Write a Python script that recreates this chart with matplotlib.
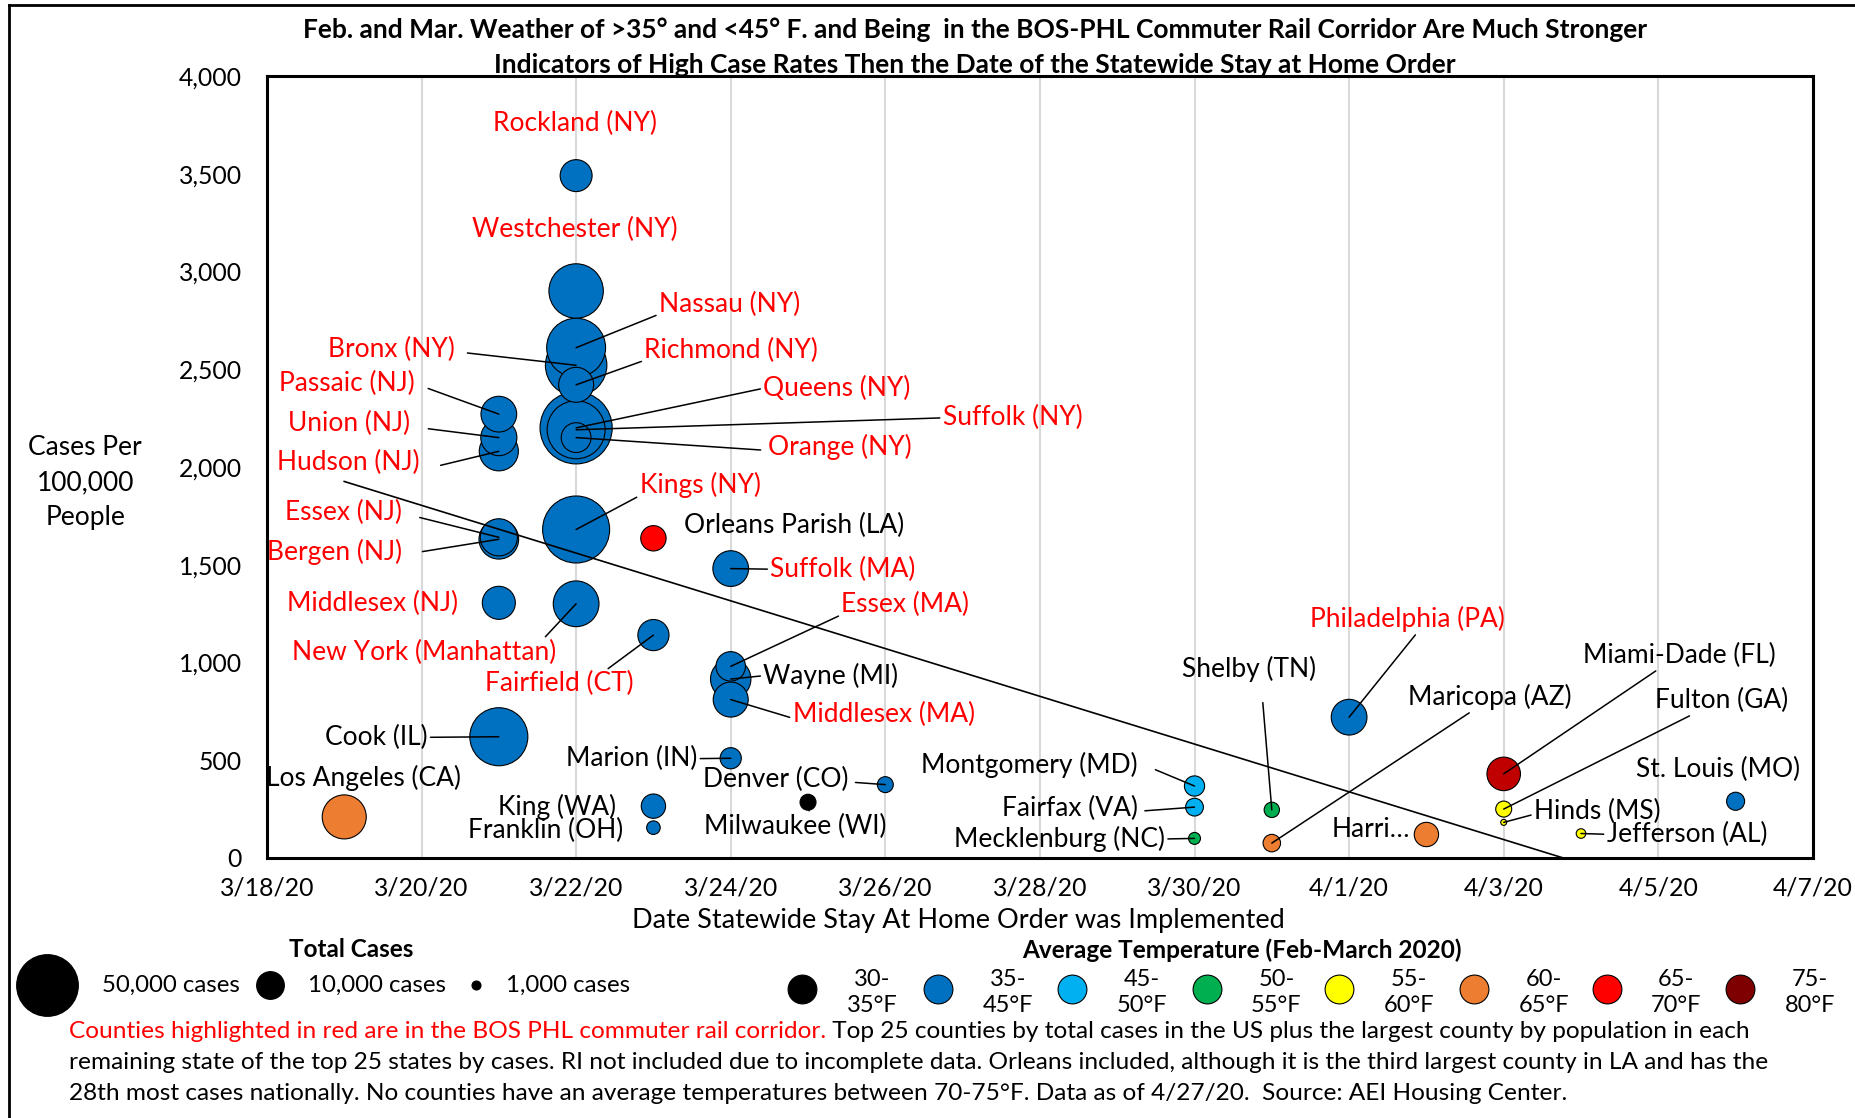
import numpy as np
import pandas as pd
import matplotlib
matplotlib.use('Agg')
import matplotlib.pyplot as plt
import matplotlib.dates as mdates

plt.rcParams['font.family'] = ['Lato', 'DejaVu Sans']

# Dados
condados = ['Rockland (NY)', 'Westchester (NY)', 'Nassau (NY)', 'Bronx (NY)', 'Richmond (NY)',
            'Queens (NY)', 'Suffolk (NY)', 'Orange (NY)', 'Kings (NY)', 'New York (Manhattan)',
            'Passaic (NJ)', 'Union (NJ)', 'Hudson (NJ)', 'Essex (NJ)', 'Bergen (NJ)',
            'Middlesex (NJ)', 'Cook (IL)', 'Los Angeles (CA)', 'Orleans Parish (LA)', 'Fairfield (CT)',
            'King (WA)', 'Franklin (OH)', 'Suffolk (MA)', 'Essex (MA)', 'Wayne (MI)',
            'Middlesex (MA)', 'Marion (IN)', 'Milwaukee (WI)', 'Denver (CO)', 'Montgomery (MD)',
            'Fairfax (VA)', 'Mecklenburg (NC)', 'Shelby (TN)', 'Maricopa (AZ)', 'Philadelphia (PA)',
            'Harris (TX)', 'Miami-Dade (FL)', 'Fulton (GA)', 'Hinds (MS)', 'Jefferson (AL)',
            'St. Louis (MO)']
datas = ['2020-03-22', '2020-03-22', '2020-03-22', '2020-03-22', '2020-03-22',
         '2020-03-22', '2020-03-22', '2020-03-22', '2020-03-22', '2020-03-22',
         '2020-03-21', '2020-03-21', '2020-03-21', '2020-03-21', '2020-03-21',
         '2020-03-21', '2020-03-21', '2020-03-19', '2020-03-23', '2020-03-23',
         '2020-03-23', '2020-03-23', '2020-03-24', '2020-03-24', '2020-03-24',
         '2020-03-24', '2020-03-24', '2020-03-25', '2020-03-26', '2020-03-30',
         '2020-03-30', '2020-03-30', '2020-03-31', '2020-03-31', '2020-04-01',
         '2020-04-02', '2020-04-03', '2020-04-03', '2020-04-03', '2020-04-04',
         '2020-04-06']
casos_100k = [3490, 2900, 2610, 2520, 2420,
              2200, 2190, 2150, 1680, 1300,
              2270, 2150, 2080, 1640, 1630,
              1305, 620, 210, 1635, 1140,
              265, 155, 1480, 980, 915,
              810, 510, 285, 375, 368,
              260, 100, 246, 76, 720,
              120, 430, 250, 182, 125,
              290]
casos_total = [10000, 29000, 34000, 37000, 12000,
               51000, 33000, 8700, 44000, 20500,
               12500, 12800, 15000, 13500, 15400,
               10700, 33000, 19000, 6300, 9500,
               5800, 1800, 12500, 8500, 16000,
               12000, 4400, 2500, 2500, 4000,
               3100, 1400, 2300, 3000, 12500,
               5800, 11000, 2500, 350, 900,
               3200]
# categoria de temperatura (indice em faixas_temp)
temp_cat = [1, 1, 1, 1, 1, 1, 1, 1, 1, 1,
            1, 1, 1, 1, 1, 1, 1, 5, 6, 1,
            1, 1, 1, 1, 1, 1, 1, 0, 1, 2,
            2, 3, 3, 5, 1,
            5, 7, 4, 4, 4,
            1]
# condados no corredor BOS-PHL (rotulo a vermelho)
corredor = [True, True, True, True, True, True, True, True, True, True,
            True, True, True, True, True, True, False, False, False, True,
            False, False, True, True, False, True, False, False, False, False,
            False, False, False, False, True,
            False, False, False, False, False,
            False]

faixas_temp = ['30-\n35°F', '35-\n45°F', '45-\n50°F', '50-\n55°F', '55-\n60°F', '60-\n65°F', '65-\n70°F', '75-\n80°F']
cores_temp = ['#000000', '#0070C0', '#00B0F0', '#00B050', '#FFFF00', '#ED7D31', '#FF0000', '#C00000']
cores_legenda = ['#000000', '#0070C0', '#00B0F0', '#00B050', '#FFFF00', '#ED7D31', '#FF0000', '#7F0000']
legenda_casos = [50000, 10000, 1000]
legenda_rotulos = ['50,000 cases', '10,000 cases', '1,000 cases']

df = pd.DataFrame({'nome': condados, 'data': pd.to_datetime(datas), 'taxa': casos_100k,
                   'casos': casos_total, 'temp': temp_cat, 'corredor': corredor})

# posicoes dos rotulos: (dias depois de 3/18, valor, alinhamento, relpos da linha ou None)
rotulos = {
    'Rockland (NY)': (3.98, 3758, 'center', None),
    'Westchester (NY)': (3.98, 3213, 'center', None),
    'Nassau (NY)': (5.07, 2832, 'left', (0, 0.1)),
    'Bronx (NY)': (2.43, 2602, 'right', (1.1, 0.35)),
    'Richmond (NY)': (4.88, 2596, 'left', (0, 0.1)),
    'Passaic (NJ)': (1.91, 2427, 'right', (1.1, 0.3)),
    'Queens (NY)': (6.42, 2402, 'left', (0, 0.5)),
    'Suffolk (NY)': (8.74, 2251, 'left', (0, 0.5)),
    'Union (NJ)': (1.85, 2221, 'right', (1.15, 0.3)),
    'Orange (NY)': (6.48, 2100, 'left', (-0.05, 0.4)),
    'Hudson (NJ)': (1.97, 2021, 'right', (1.15, 0.4)),
    'Kings (NY)': (4.82, 1906, 'left', (0, 0.1)),
    'Essex (NJ)': (1.75, 1767, 'right', (1.15, 0.3)),
    'Orleans Parish (LA)': (5.39, 1700, 'left', None),
    'Bergen (NJ)': (1.75, 1567, 'right', (1.15, 0.5)),
    'Suffolk (MA)': (6.51, 1477, 'left', (0, 0.5)),
    'Essex (MA)': (7.43, 1295, 'left', (0, 0.1)),
    'Middlesex (NJ)': (2.47, 1301, 'right', None),
    'New York (Manhattan)': (3.74, 1053, 'right', (0.95, 1.0)),
    'Fairfield (CT)': (4.75, 890, 'right', (0.8, 1.0)),
    'Wayne (MI)': (6.42, 932, 'left', (0, 0.5)),
    'Middlesex (MA)': (6.81, 732, 'left', (-0.02, 0.4)),
    'Cook (IL)': (2.08, 617, 'right', (1.0, 0.5)),
    'Marion (IN)': (5.57, 508, 'right', (1.0, 0.5)),
    'Los Angeles (CA)': (2.51, 411, 'right', None),
    'Denver (CO)': (7.52, 399, 'right', (1.05, 0.4)),
    'Montgomery (MD)': (11.27, 478, 'right', (1.08, 0.3)),
    'King (WA)': (4.52, 262, 'right', None),
    'Fairfax (VA)': (11.27, 254, 'right', (1.05, 0.4)),
    'Milwaukee (WI)': (5.65, 163, 'left', (0.58, 0.95)),
    'Franklin (OH)': (4.61, 143, 'right', None),
    'Mecklenburg (NC)': (11.62, 97, 'right', (1.0, 0.5)),
    'Shelby (TN)': (12.71, 968, 'center', (0.6, -0.8)),
    'Philadelphia (PA)': (14.76, 1222, 'center', (0.55, 0)),
    'Maricopa (AZ)': (15.82, 823, 'center', (0.4, 0)),
    'Harris (TX)': (14.79, 145, 'right', None),
    'Miami-Dade (FL)': (18.27, 1035, 'center', (0.4, 0)),
    'Fulton (GA)': (18.82, 805, 'center', (0.3, 0)),
    'St. Louis (MO)': (18.77, 454, 'center', None),
    'Hinds (MS)': (16.39, 236, 'left', (0, 0.4)),
    'Jefferson (AL)': (17.33, 121, 'left', (0, 0.5)),
}

ESCALA = 0.0529  # area do marcador (pt^2) por caso

fig = plt.figure(figsize=(18.55, 11.18), dpi=100)
ax = fig.add_axes([0.1439, 0.2326, 0.8334, 0.6995])

inicio = pd.Timestamp('2020-03-18')
x0 = mdates.date2num(inicio)

# bolhas maiores primeiro
ordem = df.sort_values('casos', ascending=False)
ax.scatter(ordem['data'], ordem['taxa'], s=ordem['casos'] * ESCALA,
           c=[cores_temp[t] for t in ordem['temp']], edgecolors='black', linewidths=0.8, zorder=3)

# linha de tendencia (linear, como no Excel)
xn = mdates.date2num(df['data'])
coef = np.polyfit(xn, df['taxa'], 1)
xt = np.linspace(xn.min(), xn.max(), 200)
ax.plot(xt, np.polyval(coef, xt), color='black', lw=1.2, zorder=4)

for _, r in df.iterrows():
    lx, ly, ha, rel = rotulos[r['nome']]
    texto = 'Harri…' if r['nome'] == 'Harris (TX)' else r['nome']
    cor = 'red' if r['corredor'] else 'black'
    kw = {}
    if rel is not None:
        kw['arrowprops'] = dict(arrowstyle='-', color='black', lw=1.1, shrinkA=0, shrinkB=0, relpos=rel)
    ax.annotate(texto, xy=(mdates.date2num(r['data']), r['taxa']), xytext=(x0 + lx, ly),
                textcoords='data', ha=ha, va='center', fontsize=19, color=cor, zorder=5, **kw)

ax.set_xlim(x0, x0 + 20)
ax.set_ylim(0, 4000)
ax.xaxis.set_major_locator(mdates.DayLocator(interval=2))
ax.xaxis.set_major_formatter(mdates.DateFormatter('%-m/%-d/%y'))
ax.set_yticks(np.arange(0, 4001, 500))
ax.yaxis.set_major_formatter(matplotlib.ticker.FuncFormatter(lambda v, p: f'{int(v):,}'))
ax.tick_params(length=0, labelsize=17.8)
ax.tick_params(axis='x', pad=13)
ax.tick_params(axis='y', pad=18)
ax.grid(axis='x', color='#d9d9d9', lw=1.5)
ax.set_axisbelow(True)
for sp in ax.spines.values():
    sp.set_linewidth(2.2)

# camada em pixels para titulo, eixos e legendas
lax = fig.add_axes([0, 0, 1, 1], zorder=-1)
lax.set_xlim(0, 1855)
lax.set_ylim(1118, 0)
lax.axis('off')
k = 1855 / 1568

lax.plot([9, 1855], [5, 5], color='black', lw=2)
lax.plot([9, 9], [5, 1118], color='black', lw=2)

lax.text(824 * k, 25 * k, 'Feb. and Mar. Weather of >35° and <45° F. and Being  in the BOS-PHL Commuter Rail Corridor Are Much Stronger',
         ha='center', va='center', fontsize=19, fontweight='bold')
lax.text(824 * k, 55 * k, 'Indicators of High Case Rates Then the Date of the Statewide Stay at Home Order',
         ha='center', va='center', fontsize=19, fontweight='bold')
lax.text(72 * k, 408 * k, 'Cases Per\n100,000\nPeople', ha='center', va='center', fontsize=19,
         linespacing=1.5)
lax.text(810 * k, 778 * k, 'Date Statewide Stay At Home Order was Implemented', ha='center', va='center',
         fontsize=19.5)

# legenda de casos
lax.text(297 * k, 803 * k, 'Total Cases', ha='center', va='center', fontsize=17.5, fontweight='bold')
for xc, xl, n, rot in zip([40, 228, 402], [86, 260, 428], legenda_casos, legenda_rotulos):
    lax.scatter(xc * k, 833 * k, s=n * ESCALA * 0.74, color='black', clip_on=False)
    lax.text(xl * k, 833 * k, rot, ha='left', va='center', fontsize=17.3)

# legenda de temperatura
lax.text(1050 * k, 803 * k, 'Average Temperature (Feb-March 2020)', ha='center', va='center',
         fontsize=17.6, fontweight='bold')
for i, (rot, cor) in enumerate(zip(faixas_temp, cores_legenda)):
    xm = [678, 793, 906, 1020, 1132, 1246, 1358, 1471][i]
    lax.scatter(xm * k, 836 * k, s=430, color=cor, edgecolors='black', linewidths=0.8)
    lax.text((xm + 59) * k, 839 * k, rot, ha='center', va='center', fontsize=17, linespacing=1.3)

# nota de rodape
fn = 17.6
t1 = lax.text(58 * k, 872 * k, 'Counties highlighted in red are in the BOS PHL commuter rail corridor.',
              ha='left', va='center', fontsize=fn, color='red')
lax.annotate(' Top 25 counties by total cases in the US plus the largest county by population in each',
             xy=(1, 0.5), xycoords=t1, ha='left', va='center', fontsize=fn, color='black')
lax.text(58 * k, 898 * k, 'remaining state of the top 25 states by cases. RI not included due to incomplete data. '
         'Orleans included, although it is the third largest county in LA and has the',
         ha='left', va='center', fontsize=fn)
lax.text(58 * k, 924 * k, '28th most cases nationally. No counties have an average temperatures between 70-75°F. '
         'Data as of 4/27/20.  Source: AEI Housing Center.', ha='left', va='center', fontsize=fn)

fig.savefig('out.png', dpi=100)
